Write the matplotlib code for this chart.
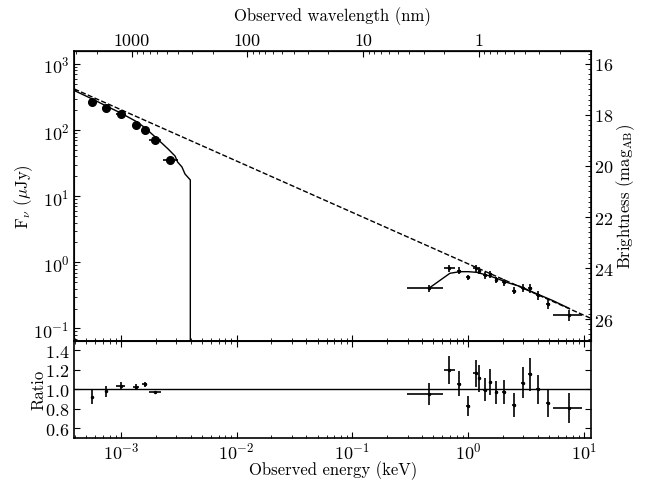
import numpy as np
import matplotlib.pyplot as plt
from matplotlib.ticker import FuncFormatter, NullFormatter, MultipleLocator, LogLocator

plt.rcParams['font.family'] = 'serif'
plt.rcParams['font.serif'] = ['cmr10', 'DejaVu Serif']
plt.rcParams['mathtext.fontset'] = 'cm'
plt.rcParams['axes.formatter.use_mathtext'] = True
plt.rcParams['font.size'] = 12
plt.rcParams['xtick.labelsize'] = 13
plt.rcParams['ytick.labelsize'] = 13
plt.rcParams['axes.unicode_minus'] = False

# Optical / NIR photometry (energy in keV, flux in uJy)
opt_energy = [5.62e-4, 7.43e-4, 9.93e-4, 1.36e-3, 1.60e-3, 1.98e-3, 2.68e-3]
opt_flux = [269, 214, 173, 119, 100, 71.6, 34.9]
opt_xerr_dex = [0.0, 0.0, 0.035, 0.025, 0.025, 0.05, 0.065]

# Optical model curve
opt_model_energy = [3.96e-4, 5.65e-4, 7.47e-4, 1.0e-3, 1.38e-3, 1.62e-3, 1.98e-3,
                    2.56e-3, 2.94e-3, 3.09e-3, 3.37e-3, 3.58e-3, 3.98e-3, 3.98e-3]
opt_model_flux = [397, 296, 232, 181, 133, 108, 78.8,
                  51.8, 40.5, 32.9, 27.7, 21.7, 17.6, 1e-4]

# X-ray spectrum
xr_energy = [0.457, 0.688, 0.836, 1.0, 1.158, 1.25, 1.40, 1.55, 1.75, 2.04,
             2.48, 2.95, 3.41, 4.03, 4.89, 7.46]
xr_elo = [0.299, 0.617, 0.80, 0.965, 1.11, 1.21, 1.35, 1.50, 1.69, 1.96,
          2.38, 2.84, 3.30, 3.88, 4.70, 5.43]
xr_ehi = [0.601, 0.772, 0.87, 1.035, 1.20, 1.29, 1.45, 1.60, 1.82, 2.13,
          2.58, 3.06, 3.53, 4.18, 5.08, 9.55]
xr_flux = [0.404, 0.811, 0.746, 0.593, 0.811, 0.746, 0.643, 0.658, 0.545, 0.498,
           0.372, 0.413, 0.408, 0.320, 0.234, 0.160]
xr_flux_err = [0.05, 0.10, 0.09, 0.06, 0.10, 0.09, 0.08, 0.08, 0.065, 0.06,
               0.045, 0.06, 0.06, 0.05, 0.04, 0.03]

# X-ray model curve
xr_model_energy = [0.457, 0.695, 0.848, 1.0, 1.18, 1.44, 1.76, 2.15, 2.80, 3.65, 5.43, 7.46]
xr_model_flux = [0.404, 0.682, 0.722, 0.722, 0.706, 0.643, 0.573, 0.498, 0.433, 0.352, 0.262, 0.201]

# Power-law extrapolation (dashed)
pl_energy = [3.96e-4, 11.5]
pl_flux = [419, 0.142]

# Data / model ratios
opt_ratio = [0.92, 0.98, 1.036, 1.028, 1.05, 0.97]
opt_ratio_err = [0.073, 0.058, 0.035, 0.03, 0.03, 0.01]
xr_ratio = [0.952, 1.199, 1.060, 0.829, 1.165, 1.112, 0.997, 1.078, 0.969, 0.973,
            0.839, 1.070, 1.154, 1.0, 0.860, 0.811]
xr_ratio_err = [0.117, 0.147, 0.128, 0.098, 0.136, 0.136, 0.119, 0.133, 0.119, 0.121,
                0.122, 0.156, 0.166, 0.150, 0.145, 0.154]

# wavelength ticks shown on the top axis (nm)
wave_ticks = [1000, 100, 10, 1]

fig = plt.figure(figsize=(6.45, 4.81), dpi=100)
ax = fig.add_axes([0.1152, 0.2896, 0.801, 0.6029])
axr = fig.add_axes([0.1152, 0.0873, 0.801, 0.2023], sharex=ax)

opt_energy = np.array(opt_energy)
opt_xerr = np.array([opt_energy - opt_energy / 10**np.array(opt_xerr_dex),
                     opt_energy * 10**np.array(opt_xerr_dex) - opt_energy])
xr_energy = np.array(xr_energy)
xr_xerr = np.array([xr_energy - np.array(xr_elo), np.array(xr_ehi) - xr_energy])

# top panel
ax.plot(pl_energy, pl_flux, 'k--', lw=1)
ax.plot(opt_model_energy, opt_model_flux, 'k-', lw=1)
ax.plot(xr_model_energy, xr_model_flux, 'k-', lw=1)
ax.errorbar(opt_energy, opt_flux, xerr=opt_xerr, fmt='o', color='k', ms=5.5, elinewidth=1.2)
ax.errorbar(xr_energy, xr_flux, xerr=xr_xerr, yerr=xr_flux_err, fmt='.', color='k',
            ms=3, elinewidth=1.2)

ax.set_xscale('log')
ax.set_yscale('log')
ax.set_xlim(3.96e-4, 11.5)
ax.set_ylim(0.0652, 1590)
ax.set_ylabel(r'F$_\nu$ ($\mu$Jy)', labelpad=-1)
ax.tick_params(which='both', direction='in', top=False, right=False, labelbottom=False)
ax.tick_params(which='major', length=4)
ax.tick_params(which='minor', length=2)
ax.yaxis.set_minor_locator(LogLocator(subs=np.arange(2, 10)))

# top axis: wavelength in nm
def e2nm(e):
    return 1.23984 / np.asarray(e, dtype=float)

secax = ax.secondary_xaxis('top', functions=(e2nm, e2nm))
secax.set_xlabel('Observed wavelength (nm)', labelpad=9)
secax.set_xticks(wave_ticks)
secax.xaxis.set_major_formatter(FuncFormatter(lambda v, p: f'{v:g}'))
secax.xaxis.set_minor_formatter(NullFormatter())
secax.tick_params(which='both', direction='in', pad=2)
secax.tick_params(which='major', length=4)
secax.tick_params(which='minor', length=2)

# right axis: AB magnitude
axm = ax.twinx()
axm.set_ylim(26.85, 15.48)
axm.yaxis.set_major_locator(MultipleLocator(2))
axm.yaxis.set_minor_locator(MultipleLocator(0.2))
axm.set_ylabel(r'Brightness (mag$_{\rm AB}$)', labelpad=1)
axm.tick_params(which='both', direction='in', pad=2)
axm.tick_params(which='major', length=4)
axm.tick_params(which='minor', length=2)

# ratio panel
axr.axhline(1.0, color='k', lw=1)
axr.errorbar(opt_energy[:6], opt_ratio, xerr=opt_xerr[:, :6], yerr=opt_ratio_err,
             fmt='.', color='k', ms=3, elinewidth=1.2)
axr.errorbar(xr_energy, xr_ratio, xerr=xr_xerr, yerr=xr_ratio_err,
             fmt='.', color='k', ms=3, elinewidth=1.2)
axr.set_ylim(0.5, 1.5)
axr.set_yticks([0.6, 0.8, 1.0, 1.2, 1.4])
axr.set_ylabel('Ratio', labelpad=-1)
axr.set_xlabel('Observed energy (keV)', labelpad=-1)
axr.tick_params(which='both', direction='in', top=True, right=True)
axr.tick_params(axis='x', pad=2)
axr.tick_params(which='major', length=4)
axr.tick_params(which='minor', length=2)

for a in (ax, axr):
    for s in a.spines.values():
        s.set_linewidth(1.2)

fig.savefig('out.png', dpi=100)
